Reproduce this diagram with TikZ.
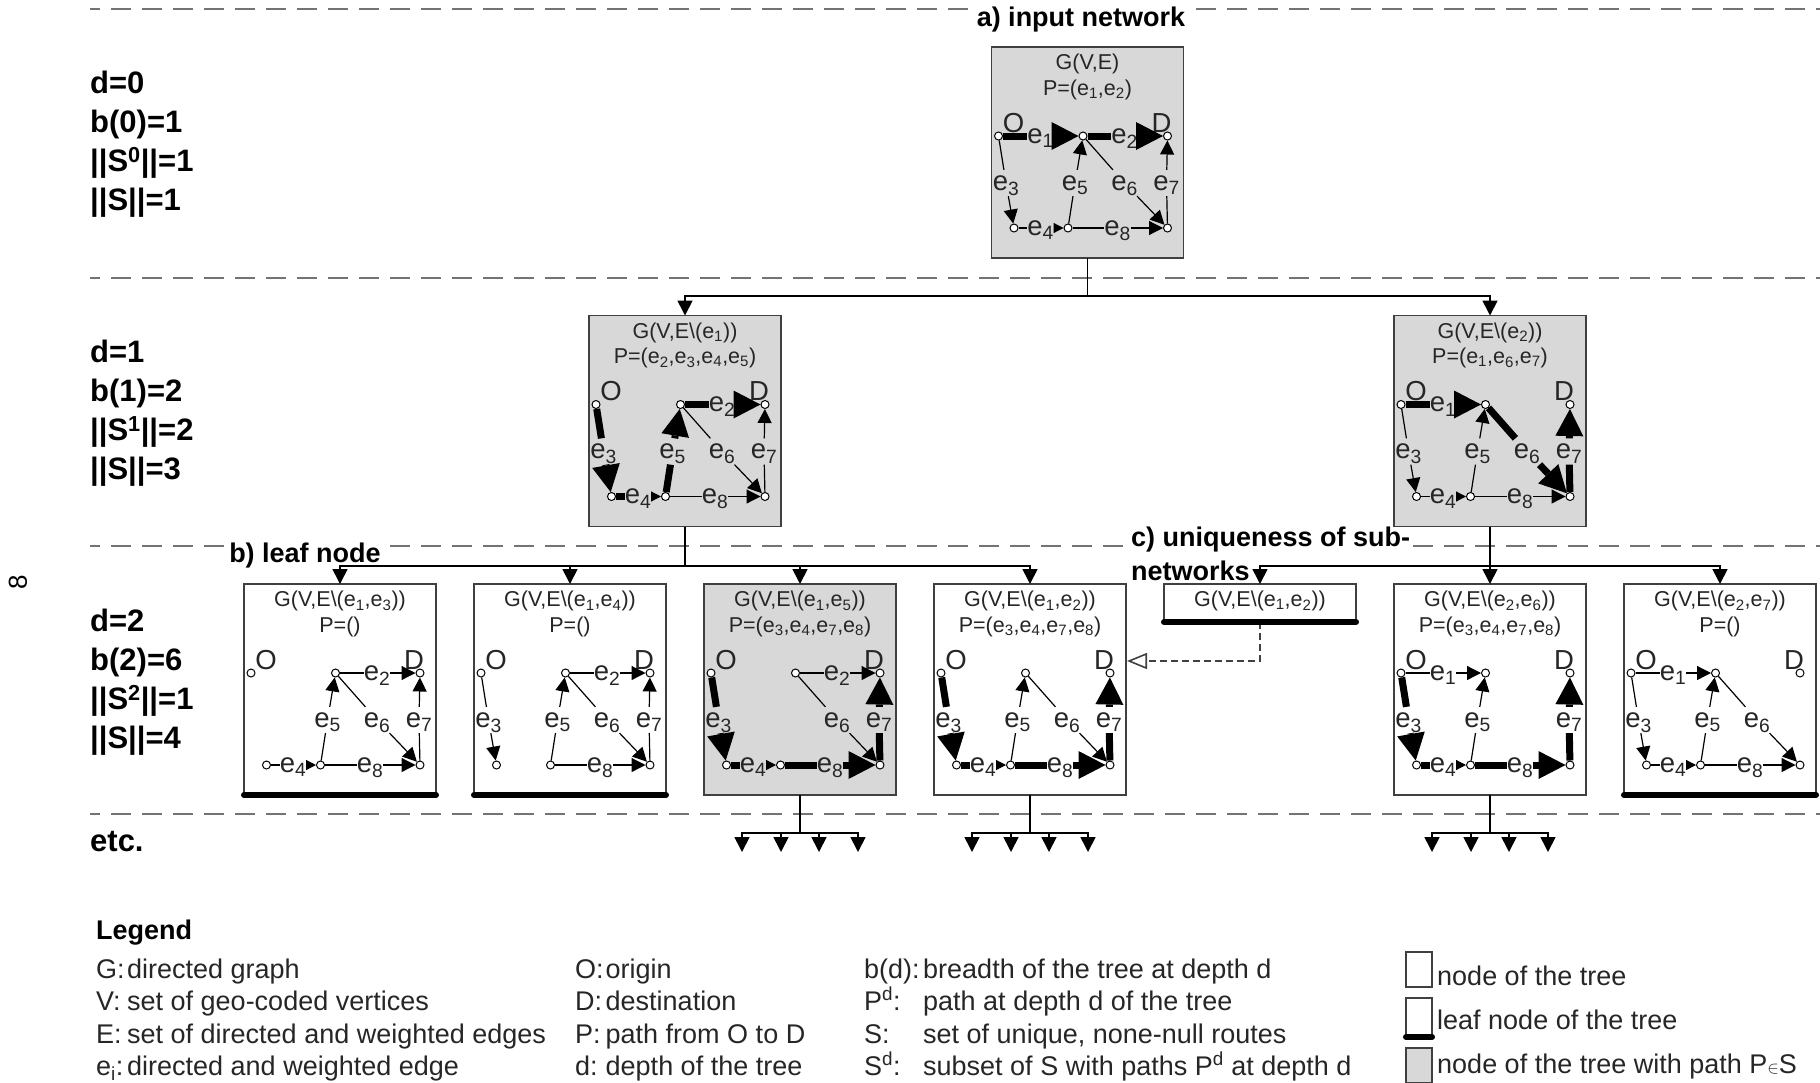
\documentclass[tikz,border=0pt]{standalone}
\usepackage{fontspec}
\setmainfont{Liberation Sans}
\usetikzlibrary{arrows.meta,positioning,calc}
\definecolor{pathgray}{HTML}{D8D8D8}
\definecolor{inkgray}{HTML}{262626}
\tikzset{
  treebox/.style={draw=black!75, line width=1.8pt, fill=white, inner sep=0pt, outer sep=0pt,
                  minimum width=192pt, minimum height=211pt},
  pathbox/.style={treebox, fill=pathgray},
  stubbox/.style={treebox, minimum height=38pt},
  keybox/.style={treebox, minimum width=26pt, minimum height=35pt},
  leafbar/.style={line width=6pt, line cap=round},
  level/.style={draw=black!55, line width=2pt, dash pattern=on 20pt off 11pt, dash phase=10pt},
  vertex/.style={circle, draw=black, fill=white, line width=1pt, minimum size=8pt, inner sep=0pt},
  nettitle/.style={text=inkgray, align=center, inner sep=0pt, font=\fontsize{21.5}{25.5}\selectfont},
  endlabel/.style={text=inkgray, inner sep=0pt, outer sep=0pt, font=\fontsize{27.5}{29}\selectfont},
  netlabel/.style={endlabel, text height=14.3pt, text depth=0pt, outer ysep=6pt},
  depth/.style={anchor=west, align=left, inner sep=0pt, font=\bfseries\fontsize{31}{39}\selectfont},
  callout/.style={fill=white, inner sep=3pt, align=left, font=\bfseries\fontsize{27}{34}\selectfont},
  legend/.style={anchor=base west, inner sep=0pt, text=inkgray, font=\fontsize{27}{30}\selectfont},
  tree/.style={line width=1.7pt},
  treearrow/.style={tree, -{Triangle[length=15pt,width=15pt]}},
  samenet/.style={draw=black!75, line width=1.6pt, dash pattern=on 7pt off 4pt,
                  -{Triangle[open,fill=white,length=20pt,width=16pt]}},
  light-wire/.style={line width=1.2pt},
  light-tip/.style={light-wire, -{Triangle[length=14pt,width=14pt]}},
  small-wire/.style={light-wire},
  small-tip/.style={light-wire, -{Triangle[length=10pt,width=10pt]}},
  heavy-wire/.style={line width=7pt},
  heavy-tip/.style={heavy-wire, -{Triangle[length=27pt,width=28pt,line width=0pt]}},
  heavysmall-wire/.style={heavy-wire},
  heavysmall-tip/.style={light-wire, -{Triangle[length=10pt,width=10pt]}}
}
\newcommand{\es}[1]{e\textsubscript{#1}}
\newcommand{\setedge}[4]{\def\edgefrom{#1}\def\edgeto{#2}\def\labx{#3}\def\laby{#4}}
\newcommand{\edgedata}[1]{\ifcase#1\or\setedge{O}{A}{49}{89}\or\setedge{A}{D}{133}{89}%
  \or\setedge{O}{B}{14.5}{136}\or\setedge{B}{C}{49}{181}\or\setedge{C}{A}{83.5}{136}%
  \or\setedge{A}{E}{133}{136}\or\setedge{E}{D}{175}{136}\or\setedge{C}{E}{126}{181}\fi}
\newcommand{\netgraph}[3]{%
  \node[nettitle, below=7pt of #1.north] (#1-title) {#2};
  \foreach \p/\x/\y in {O/7/89,A/91.5/89,D/176/89,B/22.5/181,C/76.5/181,E/176/181}
    \node[vertex] (#1-\p) at ($(#1.north west)+(\x,\y)$) {};
  \node[endlabel] (#1-olabel) at ($(#1.north west)+(22,76)$) {O};
  \node[endlabel] (#1-dlabel) at ($(#1.north west)+(170,76)$) {D};
  \foreach \n/\w in {#3} {
    \edgedata{\n}
    \node[netlabel] (#1-e\n) at ($(#1.north west)+(\labx,\laby)$) {\es{\n}};
    \draw[\w-wire] (#1-\edgefrom) -- (#1-e\n);
    \draw[\w-tip] (#1-e\n) -- (#1-\edgeto);
  }
}
\begin{document}
\begin{tikzpicture}[x=1pt,y=-1pt]
  \useasboundingbox (0,0) rectangle (1820,1082);
  % depth levels
  \foreach \y in {9,277.5,545.5,814}
    \draw[level] (90,\y) -- (1820,\y);
  \node[rotate=90, font=\fontsize{26}{26}\selectfont] (stray) at (18,582) {8};
  \node[depth] (d0) at (90,144.5) {d=0\\b(0)=1\\||S\textsuperscript{0}||=1\\||S||=1};
  \node[depth] (d1) at (90,413.5) {d=1\\b(1)=2\\||S\textsuperscript{1}||=2\\||S||=3};
  \node[depth] (d2) at (90,682) {d=2\\b(2)=6\\||S\textsuperscript{2}||=1\\||S||=4};
  \node[depth] (etc) at (90,842) {etc.};
  \node[callout, anchor=center] (input) at (1081,20) {a) input network};
  \node[callout, anchor=center] (leaf) at (305,556) {b) leaf node};
  \node[callout, anchor=north west] (unique) at (1128,524) {c) uniqueness of sub-\\networks};
  % tree nodes
  \node[pathbox] (root) at (1087.5,152.5) {};
  \node[pathbox] (left) at (685,421) {};
  \node[pathbox] (right) at (1490,421) {};
  \node[treebox] (c1) at (340,689.5) {};
  \node[treebox, right=38pt of c1] (c2) {};
  \node[pathbox, right=38pt of c2] (c3) {};
  \node[treebox, right=38pt of c3] (c4) {};
  \node[stubbox] (c5) at (1260,603) {};
  \node[treebox] (c6) at (1490,689.5) {};
  \node[treebox, right=38pt of c6] (c7) {};
  % tree edges
  \coordinate (rootbus) at ($(root.south)+(0,38)$);
  \coordinate (leftbus) at ($(left.south)+(0,39.5)$);
  \coordinate (rightbus) at ($(right.south)+(0,39.5)$);
  \draw[tree] (root.south) -- (rootbus);
  \draw[tree] (left.south) -- (leftbus);
  \draw[tree] (right.south) -- (rightbus);
  \foreach \u/\v in {rootbus/left,rootbus/right,leftbus/c1,leftbus/c2,leftbus/c3,leftbus/c4,rightbus/c5,rightbus/c6,rightbus/c7}
    \draw[treearrow] (\u) -| (\v.north);
  \foreach \b in {c3,c4,c6} {
    \coordinate (\b-bus) at ($(\b.south)+(0,38)$);
    \draw[tree] (\b.south) -- (\b-bus);
    \foreach \t/\dx in {a/-58,b/-19,c/19,d/58} {
      \coordinate (\b-\t) at ($(\b-bus)+(\dx,19)$);
      \draw[treearrow] (\b-bus) -| (\b-\t);
    }
  }
  \coordinate (c4-in) at (1127,661);
  \draw[samenet] (c5.south) |- (c4-in);
  % the networks
  \netgraph{root}{G(V,E)\\P=(\es1,\es2)}{1/heavy,2/heavy,3/light,4/small,5/light,6/light,7/light,8/light}
  \netgraph{left}{G(V,E\textbackslash(\es1))\\P=(\es2,\es3,\es4,\es5)}{2/heavy,3/heavy,4/heavysmall,5/heavy,6/light,7/light,8/light}
  \netgraph{right}{G(V,E\textbackslash(\es2))\\P=(\es1,\es6,\es7)}{1/heavy,3/light,4/small,5/light,6/heavy,7/heavy,8/light}
  \netgraph{c1}{G(V,E\textbackslash(\es1,\es3))\\P=()}{2/light,4/small,5/light,6/light,7/light,8/light}
  \netgraph{c2}{G(V,E\textbackslash(\es1,\es4))\\P=()}{2/light,3/light,5/light,6/light,7/light,8/light}
  \netgraph{c3}{G(V,E\textbackslash(\es1,\es5))\\P=(\es3,\es4,\es7,\es8)}{2/light,3/heavy,4/heavysmall,6/light,7/heavy,8/heavy}
  \netgraph{c4}{G(V,E\textbackslash(\es1,\es2))\\P=(\es3,\es4,\es7,\es8)}{3/heavy,4/heavysmall,5/light,6/light,7/heavy,8/heavy}
  \netgraph{c6}{G(V,E\textbackslash(\es2,\es6))\\P=(\es3,\es4,\es7,\es8)}{1/light,3/heavy,4/heavysmall,5/light,7/heavy,8/heavy}
  \netgraph{c7}{G(V,E\textbackslash(\es2,\es7))\\P=()}{1/light,3/light,4/small,5/light,6/light,8/light}
  \node[nettitle, below=7pt of c5.north] (c5-title) {G(V,E\textbackslash(\es1,\es2))};
  % legend
  \node[legend, font=\bfseries\fontsize{27}{30}\selectfont, text=black] (legendhead) at (96,939) {Legend};
  \foreach \k/\t/\kx/\tx/\y/\id in {
      G:/directed graph/96/127/978/g,
      V:/set of geo-coded vertices/96/127/1010/v,
      E:/set of directed and weighted edges/96/127/1043/e,
      \es{i}:/directed and weighted edge/96/127/1075/w,
      O:/origin/575/605.5/978/o,
      D:/destination/575/605.5/1010/dd,
      P:/path from O to D/575/605.5/1043/p,
      d:/depth of the tree/575/605.5/1075/dp,
      b(d):/breadth of the tree at depth d/864/923/978/br,
      P\textsuperscript{d}:/path at depth d of the tree/864/923/1010/pd,
      S:/{set of unique, none-null routes}/864/923/1043/s,
      S\textsuperscript{d}:/subset of S with paths P\textsuperscript{d} at depth d/864/923/1075/sd} {
    \node[legend] (key-\id) at (\kx,\y) {\k};
    \node[legend] (text-\id) at (\tx,\y) {\t};
  }
  \node[keybox] (k1) at (1419,969.5) {};
  \node[keybox, minimum height=39pt] (k2) at (1419,1017.5) {};
  \node[keybox, fill=pathgray] (k3) at (1419,1065.5) {};
  \foreach \n in {c1,c2,c5,c7,k2}
    \draw[leafbar] (\n.south west) -- (\n.south east);
  \node[legend] (k1-text) at (1437,985) {node of the tree};
  \node[legend] (k2-text) at (1437,1029) {leaf node of the tree};
  \node[legend] (k3-text) at (1437,1073) {node of the tree with path P{\fontsize{19}{19}\selectfont$\in$}S};
\end{tikzpicture}
\end{document}
